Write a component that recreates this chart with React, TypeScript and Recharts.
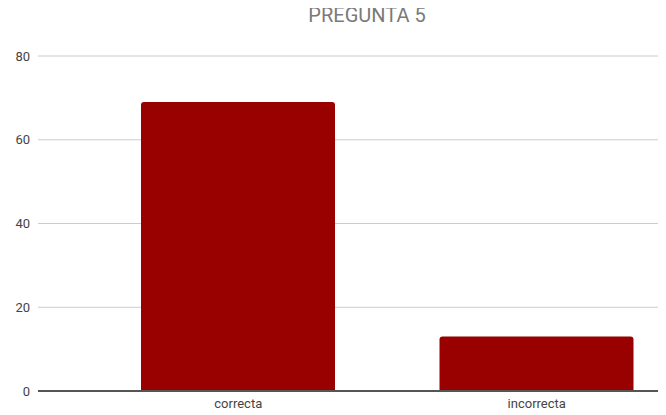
import { BarChart, Bar, XAxis, YAxis, CartesianGrid } from "recharts";

const categories = ["correcta", "incorrecta"];
const respuestas = [69, 13];
const yTicks = [0, 20, 40, 60, 80];

const data = categories.map((name, i) => ({ name, value: respuestas[i] }));

export default function App() {
  return (
    <div
      style={{
        position: "relative",
        width: 666,
        height: 415,
        overflow: "hidden",
        margin: "-8px 0 0 -8px",
        background: "#fff",
        fontFamily: "Roboto, 'Open Sans', sans-serif",
      }}
    >
      <div
        style={{
          position: "absolute",
          top: 3,
          left: 267,
          width: 200,
          textAlign: "center",
          fontSize: 20,
          color: "#7a7a7a",
        }}
      >
        PREGUNTA 5
      </div>
      <BarChart
        width={700}
        height={415}
        data={data}
        margin={{ top: 56, right: 14, bottom: 0, left: 0 }}
      >
        <CartesianGrid vertical={false} stroke="#cccccc" />
        <XAxis
          dataKey="name"
          height={24}
          padding={{ left: 51, right: 0 }}
          tickLine={false}
          axisLine={{ stroke: "#555555", strokeWidth: 2 }}
          tick={{ fill: "#444444", fontSize: 13 }}
        />
        <YAxis
          width={38}
          domain={[0, 80]}
          ticks={yTicks}
          tickLine={false}
          axisLine={false}
          tick={{ fill: "#444444", fontSize: 13 }}
        />
        <Bar
          dataKey="value"
          fill="#990000"
          barSize={194}
          radius={[3, 3, 0, 0]}
          isAnimationActive={false}
        />
      </BarChart>
    </div>
  );
}
